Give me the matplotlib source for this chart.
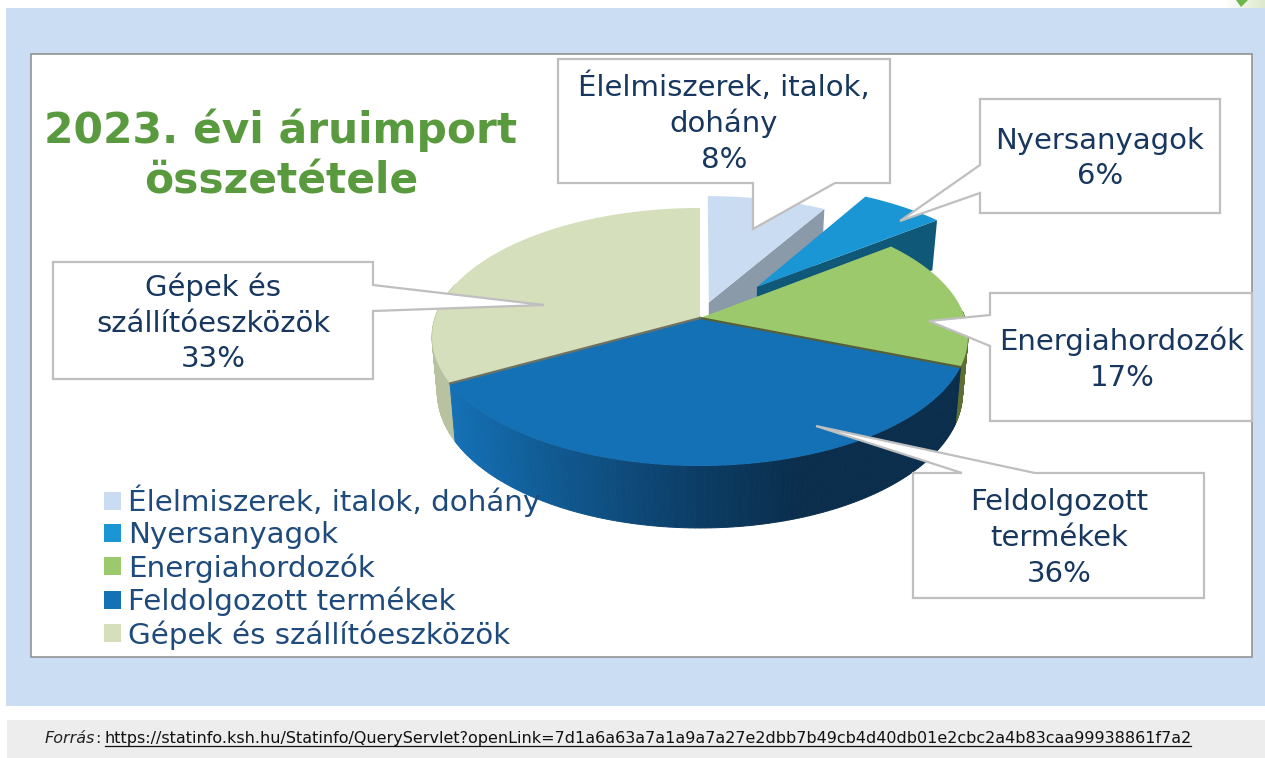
import numpy as np
import matplotlib
matplotlib.use("Agg")
import matplotlib.pyplot as plt
from matplotlib.patches import Polygon, Rectangle, Patch
from matplotlib.colors import to_rgb

categories = ["Élelmiszerek, italok, dohány", "Nyersanyagok", "Energiahordozók",
              "Feldolgozott termékek", "Gépek és szállítóeszközök"]
values = [8.4, 6.0, 16.6, 36, 33]
colors = ["#C9DCF1", "#1B96D4", "#9BC96B", "#1471B6", "#D5DFBC"]
explode = [0.13, 0.34, 0, 0, 0]
callout_lines = [["Élelmiszerek, italok,", "dohány", "8%"], ["Nyersanyagok", "6%"],
                 ["Energiahordozók", "17%"], ["Feldolgozott", "termékek", "36%"],
                 ["Gépek és", "szállítóeszközök", "33%"]]
title_lines = ["2023. évi áruimport", "összetétele"]
source_label = "Forrás"
source_url = "https://statinfo.ksh.hu/Statinfo/QueryServlet?openLink=7d1a6a63a7a1a9a7a27e2dbb7b49cb4d40db01e2cbc2a4b83caa99938861f7a2"

W, H = 1265, 758
CX, CY, A, B, K = 700, 318, 265, 126.2, 0.147
TEXT = "#17375E"
LEG = "#1F4A7C"
LINE = "#BFBFBF"

fig = plt.figure(figsize=(W / 100, H / 100), dpi=100, facecolor="white")
ax = fig.add_axes([0, 0, 1, 1])
ax.set_xlim(0, W)
ax.set_ylim(H, 0)
ax.axis("off")

# page
ax.add_patch(Rectangle((6, 8), W - 6, 698, fc="#CBDDF2", ec="none"))
ax.add_patch(Rectangle((31, 54), 1221, 603, fc="white", ec="#8C8C8C", lw=1.1))
ax.add_patch(Rectangle((7, 720), W - 7, 38, fc="#EDEDED", ec="none"))
ax.imshow(np.linspace(0, 1, 40)[None, :, None] * (np.array(to_rgb("#DCE9CC")) - 1) + 1,
          extent=(1225, 1265, 8, 0), aspect="auto", zorder=1)
ax.set_xlim(0, W)
ax.set_ylim(H, 0)
ax.add_patch(Polygon([(1236, 0), (1248, 0), (1241, 7)], fc="#6DB54A", ec="none", zorder=2))


def project(theta, radius=1.0, off=(0.0, 0.0), bottom=False):
    x = radius * np.sin(theta) + off[0]
    y = radius * np.cos(theta) + off[1]
    w = 1 + K * y
    px = A * x / w
    py = CY - B * y / w
    if bottom:
        px = px * 0.98
        py = py * 1.049 + 39.2
    return CX + px, py


def arc_pts(t0, t1, off, bottom=False, n=120):
    t = np.linspace(t0, t1, n)
    return np.column_stack(project(t, 1.0, off, bottom))


def apex(off, bottom=False):
    return np.column_stack(project(np.array([0.0]), 0.0, off, bottom))


shares = np.array(values, dtype=float) / np.sum(values)
edges = np.concatenate([[0], np.cumsum(shares)]) * 2 * np.pi
mids = (edges[:-1] + edges[1:]) / 2
offs = [(e * np.sin(m), e * np.cos(m)) for e, m in zip(explode, mids)]


def top_face(i, z):
    pts = np.vstack([apex(offs[i]), arc_pts(edges[i], edges[i + 1], offs[i])])
    ax.add_patch(Polygon(pts, fc=colors[i], ec="none", zorder=z))


def radial_face(i, angle, color, z):
    a_top = apex(offs[i])
    e_top = np.column_stack(project(np.array([angle]), 1.0, offs[i]))
    e_bot = np.column_stack(project(np.array([angle]), 1.0, offs[i], True))
    a_bot = apex(offs[i], True)
    ax.add_patch(Polygon(np.vstack([a_top, e_top, e_bot, a_bot]), fc=color, ec="none", zorder=z))


def outer_wall(i, t0, t1, color_fn, z, n=130):
    ts = np.linspace(t0, t1, n)
    for a0, a1 in zip(ts[:-1], ts[1:]):
        a = arc_pts(a0, a1, offs[i], n=2)
        b = arc_pts(a0, a1, offs[i], True, n=2)[::-1]
        col = color_fn(a[:, 0].mean())
        ax.add_patch(Polygon(np.vstack([a, b]), fc=col, ec=col, lw=0.7, zorder=z))


# machinery (rear left)
outer_wall(4, edges[4], edges[4] + np.radians(45), lambda x: "#B9C2A0", 3, 60)
top_face(4, 4)
# food
radial_face(0, edges[1], "#8A9AA8", 5)
top_face(0, 6)
# raw materials
radial_face(1, edges[2], "#0F5878", 7)
top_face(1, 8)
# energy
outer_wall(2, edges[2] + np.radians(35), edges[3], lambda x: "#5E6E34", 9, 40)
top_face(2, 10)

# processed goods, wall shaded along x
stops_x = [452, 560, 700, 800, 970]
stops_c = np.array([to_rgb(c) for c in ["#1470B5", "#10588F", "#0C3C64", "#0A2E4C", "#0A2E4C"]])
outer_wall(3, edges[3], edges[4],
           lambda x: tuple(np.interp(x, stops_x, stops_c[:, k]) for k in range(3)), 11)
top_face(3, 12)
p = np.column_stack(project(np.array([edges[3]]), 1.0, offs[3]))
ax.plot([CX, p[0, 0]], [CY, p[0, 1]], color="#55603A", lw=1.6, zorder=13)
p = np.column_stack(project(np.array([edges[4]]), 1.0, offs[3]))
ax.plot([CX, p[0, 0]], [CY, p[0, 1]], color="#6E7263", lw=1.6, zorder=13)

# callouts
shapes = [
    [(558, 59), (890, 59), (890, 183), (835, 183), (753, 229), (753, 183), (558, 183)],
    [(980, 99), (1220, 99), (1220, 213), (980, 213), (980, 193), (900, 221), (980, 165)],
    [(990, 293), (1252, 293), (1252, 421), (990, 421), (990, 346), (929, 321), (990, 315)],
    [(913, 473), (962, 473), (816, 426), (1035, 473), (1204, 473), (1204, 598), (913, 598)],
    [(53, 262), (373, 262), (373, 285), (544, 305), (373, 311), (373, 379), (53, 379)],
]
label_x = [724, 1100, 1122, 1059, 213]
label_base = [[96, 132, 168], [149, 184], [350, 386], [510, 546, 582], [296, 332, 367]]
for shape, lines, lx, bases in zip(shapes, callout_lines, label_x, label_base):
    ax.add_patch(Polygon(shape, closed=True, fc="white", ec=LINE, lw=1.6, joinstyle="miter", zorder=20))
    for s, yb in zip(lines, bases):
        ax.text(lx, yb, s, ha="center", va="baseline", color=TEXT, fontsize=21, zorder=21)

# title
for s, yb in zip(title_lines, [143, 194]):
    ax.text(281, yb, s, ha="center", va="baseline", color="#5A9A3E", fontsize=30.5,
            fontweight="bold", zorder=21)

# legend
handles = [Patch(fc=c, ec="none", label=n) for c, n in zip(colors, categories)]
leg = fig.legend(handles=handles, loc="lower left",
                 bbox_to_anchor=(104 / W, (758 - 649.5) / H), frameon=False, fontsize=21.2,
                 handlelength=0.575, handleheight=0.575, handletextpad=0.24,
                 labelspacing=0.135, borderpad=0, borderaxespad=0, labelcolor=LEG)
leg.set_zorder(30)

# source
t1 = ax.text(45, 743, source_label, style="italic", fontsize=11.54, va="baseline", color="#222222", zorder=21)
fig.canvas.draw()
r = fig.canvas.get_renderer()
x = ax.transData.inverted().transform(t1.get_window_extent(r))[1, 0]
t2 = ax.text(x, 743, ":", fontsize=11.54, va="baseline", color="#222222", zorder=21)
ux = 105
t3 = ax.text(ux, 743, source_url, fontsize=11.54, va="baseline", color="#111111", zorder=21)
bb = t3.get_window_extent(r)
x1 = ax.transData.inverted().transform(bb)[1, 0]
ax.plot([ux, x1 - 1], [745.5, 745.5], color="#111111", lw=0.9, zorder=21)

fig.savefig("out.png", dpi=100, facecolor="white")
